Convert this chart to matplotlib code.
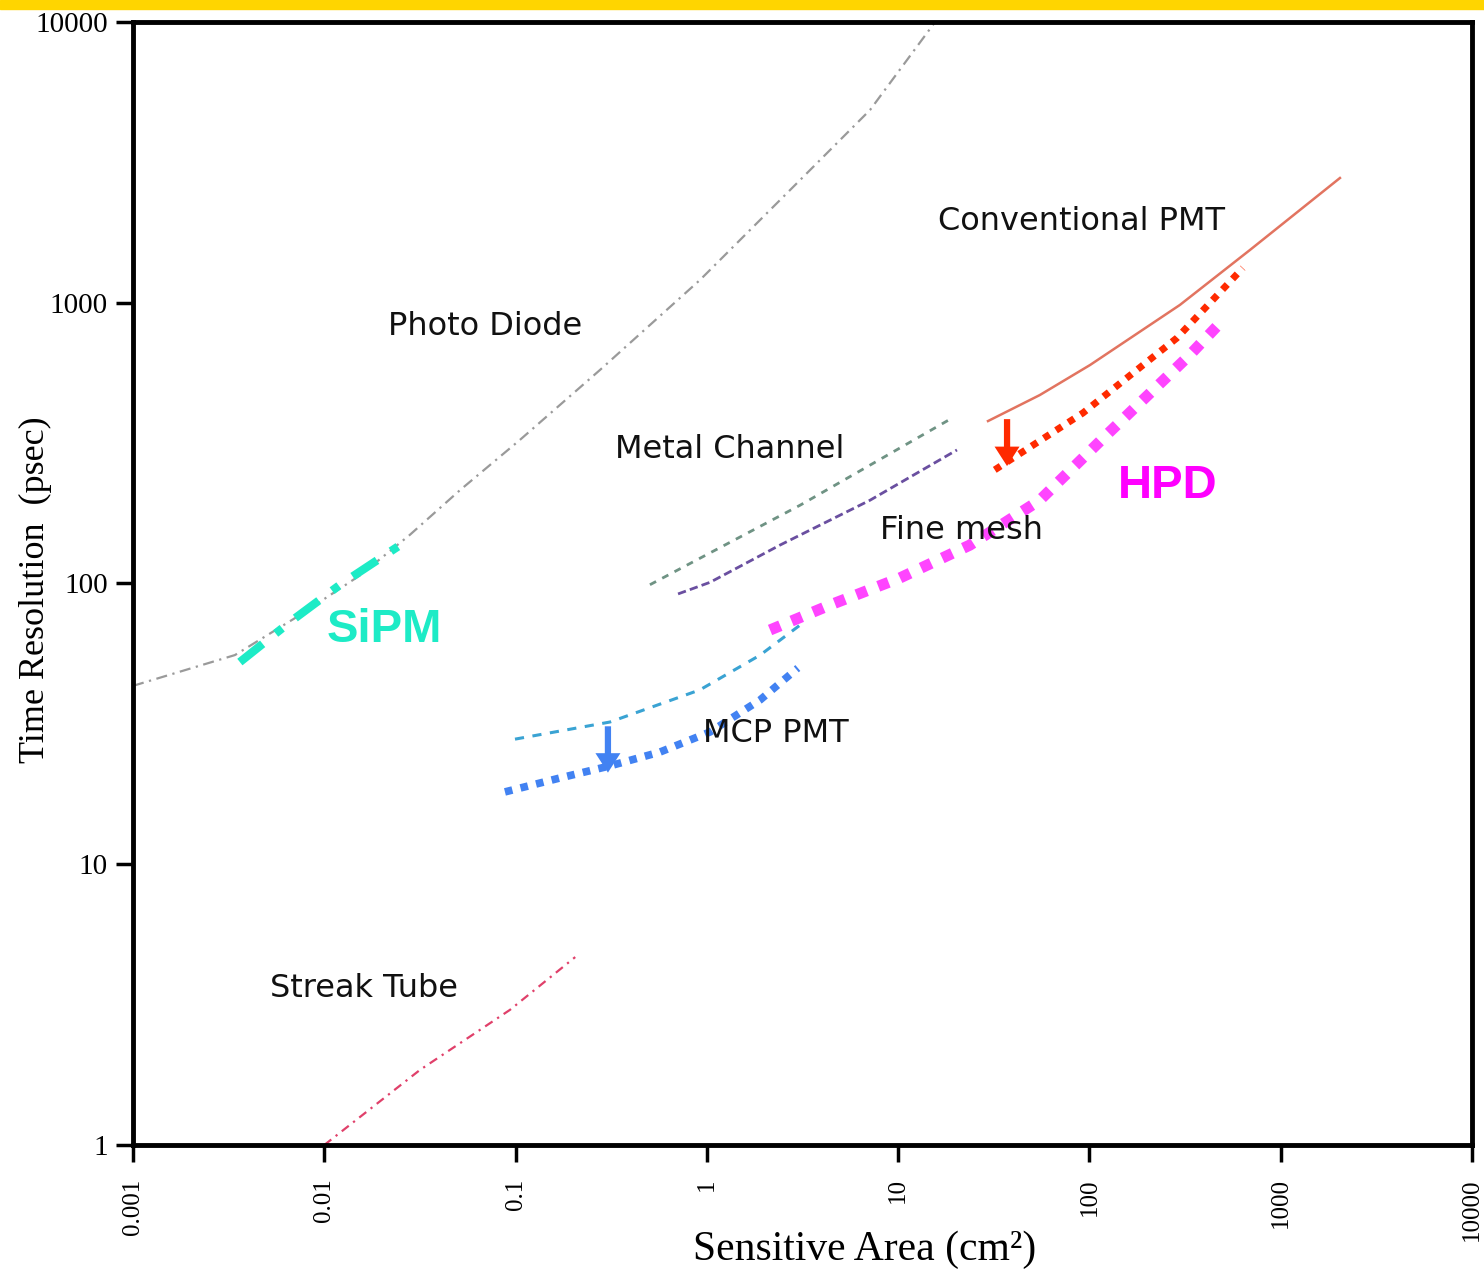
import numpy as np
import matplotlib
matplotlib.use("Agg")
import matplotlib.pyplot as plt
from matplotlib.patches import Rectangle

# 曲線データ (x: 面積 cm^2, y: 時間分解能 psec)
photo_x = [0.001, 0.00341, 0.00746, 0.0154, 0.028, 0.0512, 0.105, 0.276, 0.92, 3.07, 7.13, 15.6]
photo_y = [43.2, 55.6, 77.2, 107, 149, 215, 324, 576, 1205, 2735, 4860, 10000]

sipm_x = [0.00362, 0.00663, 0.0121, 0.0274]
sipm_y = [52.5, 73, 99, 143]

streak_x = [0.01, 0.0316, 0.0935, 0.205]
streak_y = [1.0, 1.85, 3.03, 4.67]

metal_x = [0.504, 3.07, 19.1]
metal_y = [99, 190, 388]

mesh_x = [0.707, 1.04, 2.41, 7.13, 20.3]
mesh_y = [91.8, 101, 137, 198, 299]

mcp_x = [0.0993, 0.311, 0.92, 1.90, 3.07]
mcp_y = [27.9, 32.1, 41.8, 55.6, 71.1]

mcp_new_x = [0.088, 0.171, 0.311, 0.569, 1.04, 1.90, 2.99]
mcp_new_y = [18.1, 20.3, 22.4, 25.1, 29.6, 38.5, 50]

pmt_x = [29.5, 55, 100.7, 297, 690, 2040]
pmt_y = [379, 469, 600, 982, 1541, 2782]

pmt_new_x = [32, 92.5, 286, 634]
pmt_new_y = [254, 405, 748, 1330]

hpd_x = [2.14, 4.40, 10.2, 23.7, 55, 120, 335, 499]
hpd_y = [68.3, 83.8, 104.6, 137, 198, 333, 652, 868]

ticks = [0.001, 0.01, 0.1, 1, 10, 100, 1000, 10000]
tick_labels = ['0.001', '0.01', '0.1', '1', '10', '100', '1000', '10000']
yticks = [1, 10, 100, 1000, 10000]
ytick_labels = ['1', '10', '100', '1000', '10000']

serif = 'Liberation Serif'
sans = ['DejaVu Sans']
bold_sans = ['Liberation Sans', 'DejaVu Sans']

fig = plt.figure(figsize=(14.84, 12.7), dpi=100)
fig.patches.append(Rectangle((0, 1 - 9 / 1270), 1, 9 / 1270, transform=fig.transFigure,
                             color='#FFD500', zorder=0))
ax = fig.add_axes([133 / 1484, 1 - 1145 / 1270, (1472 - 133) / 1484, (1145 - 22) / 1270])
ax.set_xscale('log')
ax.set_yscale('log')
ax.set_xlim(0.001, 10000)
ax.set_ylim(1, 10000)

# 各曲線
ax.plot(photo_x, photo_y, color='#9a9a9a', lw=1.6, dashes=(5, 2.5, 1, 2.5))
ax.plot(sipm_x, sipm_y, color='#1DEBC6', lw=6, dashes=(3.5, 2, 1, 2), dash_capstyle='butt')
ax.plot(streak_x, streak_y, color='#E0406A', lw=1.6, dashes=(4, 2.5, 1, 2.5))
ax.plot(metal_x, metal_y, color='#6F9384', lw=2, dashes=(2.5, 2.5))
ax.plot(mesh_x, mesh_y, color='#6A4FA0', lw=2, dashes=(3, 1.5))
ax.plot(mcp_x, mcp_y, color='#3AA3D3', lw=2.2, dashes=(3, 2.8))
ax.plot(mcp_new_x, mcp_new_y, color='#4282F2', lw=5.5, dashes=(1, 1.1), dash_capstyle='butt')
ax.plot(pmt_x, pmt_y, color='#E27460', lw=1.8)
ax.plot(pmt_new_x, pmt_new_y, color='#FF2A00', lw=5, dashes=(1, 1.1), dash_capstyle='butt')
ax.plot(hpd_x, hpd_y, color='#FF44FF', lw=8, dashes=(1, 1.1), dash_capstyle='butt')

# 矢印
ax.annotate('', xy=(37.1, 262), xytext=(37.1, 385),
            arrowprops=dict(width=4.5, headwidth=18, headlength=14, color='#FF2A00', lw=0))
ax.annotate('', xy=(0.304, 21.2), xytext=(0.304, 31),
            arrowprops=dict(width=4.5, headwidth=18, headlength=14, color='#4282F2', lw=0))

# ラベル
lab = dict(fontsize=23, family=sans, color='#111111', va='center', ha='left')
ax.text(0.0215, 820, 'Photo Diode', **lab)
ax.text(16.1, 1940, 'Conventional PMT', **lab)
ax.text(0.331, 299, 'Metal Channel', **lab)
ax.text(8.04, 155, 'Fine mesh', **lab)
ax.text(0.955, 29.3, 'MCP PMT', **lab)
ax.text(0.0052, 3.62, 'Streak Tube', **lab)
ax.text(0.0103, 68.3, 'SiPM', fontsize=34, fontweight='bold', color='#1DEBC6',
        family=bold_sans, va='center', ha='left')
ax.text(141, 222, 'HPD', fontsize=34, fontweight='bold', color='#FF00FF',
        family=bold_sans, va='center', ha='left')

# 軸
for s in ax.spines.values():
    s.set_linewidth(3.5)
ax.xaxis.set_major_locator(matplotlib.ticker.FixedLocator(ticks))
ax.yaxis.set_major_locator(matplotlib.ticker.FixedLocator(yticks))
ax.xaxis.set_minor_locator(matplotlib.ticker.NullLocator())
ax.yaxis.set_minor_locator(matplotlib.ticker.NullLocator())
ax.set_xticklabels(tick_labels, rotation=90, fontsize=18, family=serif)
ax.set_yticklabels(ytick_labels, fontsize=21, family=serif)
ax.tick_params(direction='out', length=12, width=2.5, pad=6)
ax.tick_params(axis='x', pad=12)
fig.text(865 / 1484, 1 - 1250 / 1270, 'Sensitive Area (cm²)', fontsize=30, family=serif,
         ha='center', va='center')
fig.text(35 / 1484, 1 - 590 / 1270, 'Time Resolution  (psec)', fontsize=26, family=serif,
         ha='center', va='center', rotation=90)

fig.savefig('out.png', dpi=100, facecolor='white')
